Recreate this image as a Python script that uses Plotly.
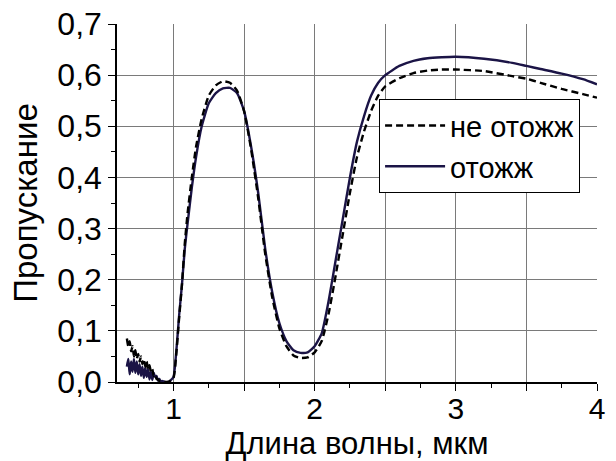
import plotly.graph_objects as go

# Wavelength, um
wavelength = [0.67, 0.68, 0.69, 0.70, 0.71, 0.72, 0.73, 0.74, 0.75, 0.76, 0.77, 0.78, 0.79, 0.80,
              0.81, 0.82, 0.83, 0.84, 0.85, 0.86, 0.87, 0.88, 0.89, 0.90, 0.91, 0.92, 0.94, 0.97,
              1.00, 1.02, 1.04, 1.06, 1.08, 1.10, 1.13, 1.16, 1.20, 1.25, 1.30, 1.35, 1.40, 1.45,
              1.50, 1.55, 1.60, 1.65, 1.70, 1.75, 1.80, 1.85, 1.90, 1.95, 2.00, 2.05, 2.10, 2.15,
              2.20, 2.25, 2.30, 2.35, 2.40, 2.45, 2.50, 2.60, 2.70, 2.80, 2.90, 3.00, 3.20, 3.40,
              3.50, 3.60, 3.75, 3.90, 4.00]

# annealed (solid)
annealed = [0.03, 0.045, 0.015, 0.04, 0.02, 0.045, 0.018, 0.04, 0.015, 0.035, 0.012, 0.03, 0.008, 0.028,
            0.01, 0.025, 0.005, 0.02, 0.004, 0.018, 0.01, 0.012, 0.003, 0.006, 0.001, 0.002, 0.0, 0.001,
            0.01, 0.06, 0.13, 0.19, 0.26, 0.31, 0.38, 0.44, 0.50, 0.545, 0.565, 0.574, 0.575, 0.565,
            0.53, 0.46, 0.37, 0.26, 0.175, 0.115, 0.08, 0.062, 0.057, 0.058, 0.07, 0.095, 0.16, 0.24,
            0.32, 0.40, 0.47, 0.52, 0.56, 0.585, 0.60, 0.618, 0.628, 0.633, 0.635, 0.636, 0.632, 0.624,
            0.618, 0.612, 0.603, 0.592, 0.582]

# not annealed (dashed)
not_annealed = [0.085, 0.07, 0.08, 0.06, 0.07, 0.05, 0.062, 0.045, 0.055, 0.04, 0.05, 0.035, 0.045, 0.03,
                0.04, 0.025, 0.033, 0.02, 0.025, 0.012, 0.015, 0.006, 0.005, 0.002, 0.001, 0.001, 0.0, 0.001,
                0.008, 0.055, 0.125, 0.19, 0.27, 0.33, 0.40, 0.46, 0.515, 0.56, 0.58, 0.588, 0.585, 0.57,
                0.53, 0.455, 0.36, 0.25, 0.165, 0.105, 0.07, 0.052, 0.047, 0.048, 0.058, 0.08, 0.135, 0.21,
                0.29, 0.37, 0.44, 0.49, 0.53, 0.56, 0.578, 0.594, 0.604, 0.609, 0.611, 0.611, 0.608, 0.598,
                0.593, 0.585, 0.573, 0.563, 0.556]

x_tickvals = [1, 1.5, 2, 2.5, 3, 3.5, 4]
x_ticktext = ["1", "", "2", "", "3", "", "4"]
x_gridvals = [1, 1.5, 2, 2.5, 3, 3.5]
y_tickvals = [0.0, 0.1, 0.2, 0.3, 0.4, 0.5, 0.6, 0.7]
y_ticktext = ["0,0", "0,1", "0,2", "0,3", "0,4", "0,5", "0,6", "0,7"]
y_gridvals = [0.1, 0.2, 0.3, 0.4, 0.5, 0.6]

FONT = "Liberation Sans, Arial, sans-serif"
XR = [0.6, 4.0]
YR = [0, 0.7]

fig = go.Figure()
fig.add_trace(go.Scatter(x=wavelength, y=not_annealed, mode="lines", name="не отожж",
                         xaxis="x2", yaxis="y2",
                         line=dict(color="black", width=2.4, dash="7px,4px", shape="spline", smoothing=0.5)))
fig.add_trace(go.Scatter(x=wavelength, y=annealed, mode="lines", name="отожж",
                         line=dict(color="#1b1446", width=2.4, shape="spline", smoothing=0.5)))

fig.update_layout(
    width=616, height=461,
    margin=dict(l=117, r=19, t=24, b=79),
    plot_bgcolor="white", paper_bgcolor="white",
    font=dict(family=FONT, color="black"),
    legend=dict(x=0.546, y=0.79, xanchor="left", yanchor="top",
                bgcolor="white", bordercolor="black", borderwidth=1,
                font=dict(size=29, family=FONT), itemwidth=60,
                tracegroupgap=0),
    xaxis=dict(range=XR, tickmode="array", tickvals=x_tickvals, ticktext=x_ticktext,
               showline=True, linecolor="black", linewidth=1.5,
               ticks="outside", ticklen=7, tickcolor="black", ticklabelstandoff=-8,
               showgrid=False, zeroline=False, automargin=False,
               tickfont=dict(size=30),
               minor=dict(dtick=0.25, tick0=0, ticks="outside", ticklen=4, tickcolor="black", showgrid=False),
               title=dict(text="Длина волны, мкм", font=dict(size=31), standoff=12)),
    yaxis=dict(range=YR, tickmode="array", tickvals=y_tickvals, ticktext=y_ticktext,
               showline=True, linecolor="black", linewidth=1.5,
               ticks="outside", ticklen=7, tickcolor="black",
               showgrid=False, zeroline=False, automargin=False,
               tickfont=dict(size=32),
               minor=dict(dtick=0.05, tick0=0, ticks="outside", ticklen=4, tickcolor="black", showgrid=False),
               title=dict(text="Пропускание", font=dict(size=33), standoff=10)),
    xaxis2=dict(range=XR, overlaying="x", anchor="y2", tickmode="array", tickvals=x_gridvals,
                showticklabels=False, ticks="", showline=False, zeroline=False, automargin=False,
                showgrid=True, gridcolor="#7a7a7a", gridwidth=1),
    yaxis2=dict(range=YR, overlaying="y", anchor="x2", tickmode="array", tickvals=y_gridvals,
                showticklabels=False, ticks="", showline=False, zeroline=False, automargin=False,
                showgrid=True, gridcolor="#7a7a7a", gridwidth=1),
)

fig.write_html("out.html", config={"displayModeBar": False},
               post_script="document.body.style.margin='0px';document.body.style.padding='0px';")
